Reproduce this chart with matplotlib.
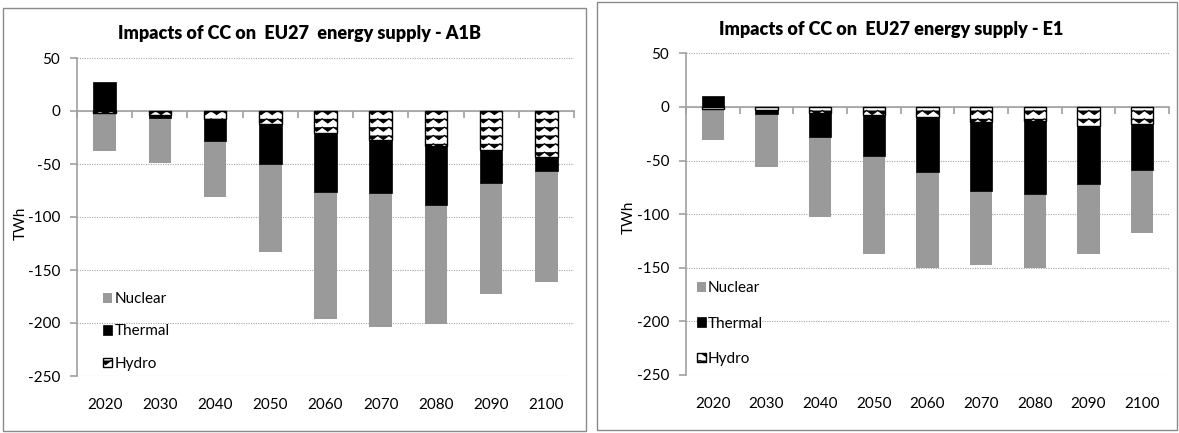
import warnings
warnings.filterwarnings('ignore')
import numpy as np
import matplotlib
matplotlib.use('Agg')
import matplotlib.pyplot as plt
from matplotlib import hatch as mhatch
from matplotlib.path import Path
from matplotlib.patches import Rectangle

# ---------------- data ----------------
years = ['2020', '2030', '2040', '2050', '2060', '2070', '2080', '2090', '2100']

a1b_hydro   = [-1.5, -3.5, -7.5, -12, -21, -27, -33, -37, -43]
a1b_thermal = [27, -3.5, -20.5, -38, -55, -50, -56, -31, -14]
a1b_nuclear = [-36.5, -42, -53, -83, -120, -127, -112, -105, -104]

e1_hydro   = [-2, -3, -6, -8, -9, -14, -13, -18, -16]
e1_thermal = [10, -4, -22, -38, -52, -64, -68.5, -54, -43]
e1_nuclear = [-29, -49, -75, -91, -89, -69, -69, -65, -59]

titles = ['Impacts of CC on  EU27  energy supply - A1B',
          'Impacts of CC on  EU27 energy supply - E1']
yticks = [50, 0, -50, -100, -150, -200, -250]
series_names = ['Nuclear', 'Thermal', 'Hydro']

# ---------------- custom zigzag hatch ----------------
class ZigZagHatch(mhatch.HatchPatternBase):
    def __init__(self, hatch, density):
        c = hatch.count('z')
        self.num_rows = int(c * 12) if c else 0
        self.num_per = int(c * 9) if c else 0
        m = 2 * self.num_per + 1
        self.num_vertices = self.num_rows * m

    def set_vertices_and_codes(self, vertices, codes):
        n = self.num_rows
        p = self.num_per
        step = 1.0 / n
        m = 2 * p + 1
        xs = np.linspace(0, 1, m)
        amp = step * 0.24
        offs = np.where(np.arange(m) % 2 == 0, amp, -amp)
        k = 0
        for i in range(n):
            y0 = (i + 0.5) * step
            vertices[k:k + m, 0] = xs
            vertices[k:k + m, 1] = y0 + offs
            codes[k] = Path.MOVETO
            codes[k + 1:k + m] = Path.LINETO
            k += m

mhatch._hatch_types.append(ZigZagHatch)

plt.rcParams['font.family'] = ['Lato', 'DejaVu Sans']
plt.rcParams['axes.unicode_minus'] = False
plt.rcParams['hatch.linewidth'] = 0.9

W, H = 1179, 433
fig = plt.figure(figsize=(W / 100, H / 100), dpi=100)

axis_col = '#a0a0a0'
grid_col = '#a6a6a6'
nuc_col = '#9a9a9a'
fs = 11


def px_rect(x0, x1, ytop, ybot):
    return [x0 / W, (H - ybot) / H, (x1 - x0) / W, (ybot - ytop) / H]


# panel borders
for (x0, x1, yt, yb) in [(3, 586, 8, 431), (597, 1177, 2, 430)]:
    fig.add_artist(Rectangle((x0 / W, (H - yb) / H), (x1 - x0) / W, (yb - yt) / H,
                             transform=fig.transFigure, fill=False,
                             edgecolor='#8a8a8a', lw=1.0))

panels = [
    dict(rect=px_rect(77, 574, 58, 376), hydro=a1b_hydro, thermal=a1b_thermal,
         nuclear=a1b_nuclear, title=titles[0], tx=300, ty=34,
         leg=(0.052, 0.14), lab=(-0.10, 0.48), lsp=1.2),
    dict(rect=px_rect(686, 1169, 53.3, 375), hydro=e1_hydro, thermal=e1_thermal,
         nuclear=e1_nuclear, title=titles[1], tx=891, ty=30,
         leg=(0.022, 0.16), lab=(-0.105, 0.49), lsp=1.4),
]

x = np.arange(len(years))
bw = 0.41

for p in panels:
    ax = fig.add_axes(p['rect'])
    hy = np.array(p['hydro'], dtype=float)
    th = np.array(p['thermal'], dtype=float)
    nu = np.array(p['nuclear'], dtype=float)

    hy_bottom = np.zeros_like(hy)
    th_bottom = np.where(th < 0, np.minimum(hy, 0), 0)
    nu_bottom = np.minimum(hy, 0) + np.minimum(th, 0)

    b_nu = ax.bar(x, nu, bw, bottom=nu_bottom, color=nuc_col, edgecolor='none',
                  label=series_names[0], zorder=3)
    b_th = ax.bar(x, th, bw, bottom=th_bottom, color='black', edgecolor='black',
                  linewidth=0.5, label=series_names[1], zorder=3)
    b_hy = ax.bar(x, hy, bw, bottom=hy_bottom, color='white', edgecolor='black',
                  linewidth=1.0, hatch='z', label=series_names[2], zorder=3)

    ax.set_xlim(-0.5, len(years) - 0.5)
    ax.set_ylim(-250, 50)
    ax.set_yticks(yticks)
    ax.yaxis.grid(True, linestyle=(0, (1, 1.2)), color=grid_col, linewidth=0.8)
    ax.set_axisbelow(True)

    for s in ['top', 'right']:
        ax.spines[s].set_visible(False)
    ax.spines['left'].set_color(axis_col)
    ax.spines['left'].set_linewidth(1.2)
    ax.spines['bottom'].set_position(('data', 0))
    ax.spines['bottom'].set_color(axis_col)
    ax.spines['bottom'].set_linewidth(1.2)
    ax.spines['bottom'].set_zorder(2)

    ax.set_xticks(np.arange(-0.5, len(years), 1.0))
    ax.tick_params(axis='x', direction='out', length=5, width=1.2, color=axis_col,
                   labelbottom=False)
    ax.tick_params(axis='y', direction='out', length=5, width=1.2, color=axis_col,
                   labelsize=fs, pad=7)

    sec = ax.secondary_xaxis('bottom')
    sec.set_xticks(x, labels=years)
    sec.tick_params(length=0, labelsize=fs, pad=16)
    sec.spines['bottom'].set_visible(False)

    ax.set_ylabel('TWh', fontsize=fs)
    ax.yaxis.set_label_coords(*p['lab'])

    ax.legend(handles=[b_nu, b_th, b_hy], loc='center left',
              bbox_to_anchor=p['leg'], frameon=False, fontsize=fs,
              handlelength=0.6, handleheight=0.6, handletextpad=0.15,
              labelspacing=p['lsp'], borderpad=0, borderaxespad=0)

    fig.text(p['tx'] / W, 1 - p['ty'] / H, p['title'], ha='center', va='center',
             fontsize=13, fontweight='heavy')

fig.savefig('out.png', dpi=100)
